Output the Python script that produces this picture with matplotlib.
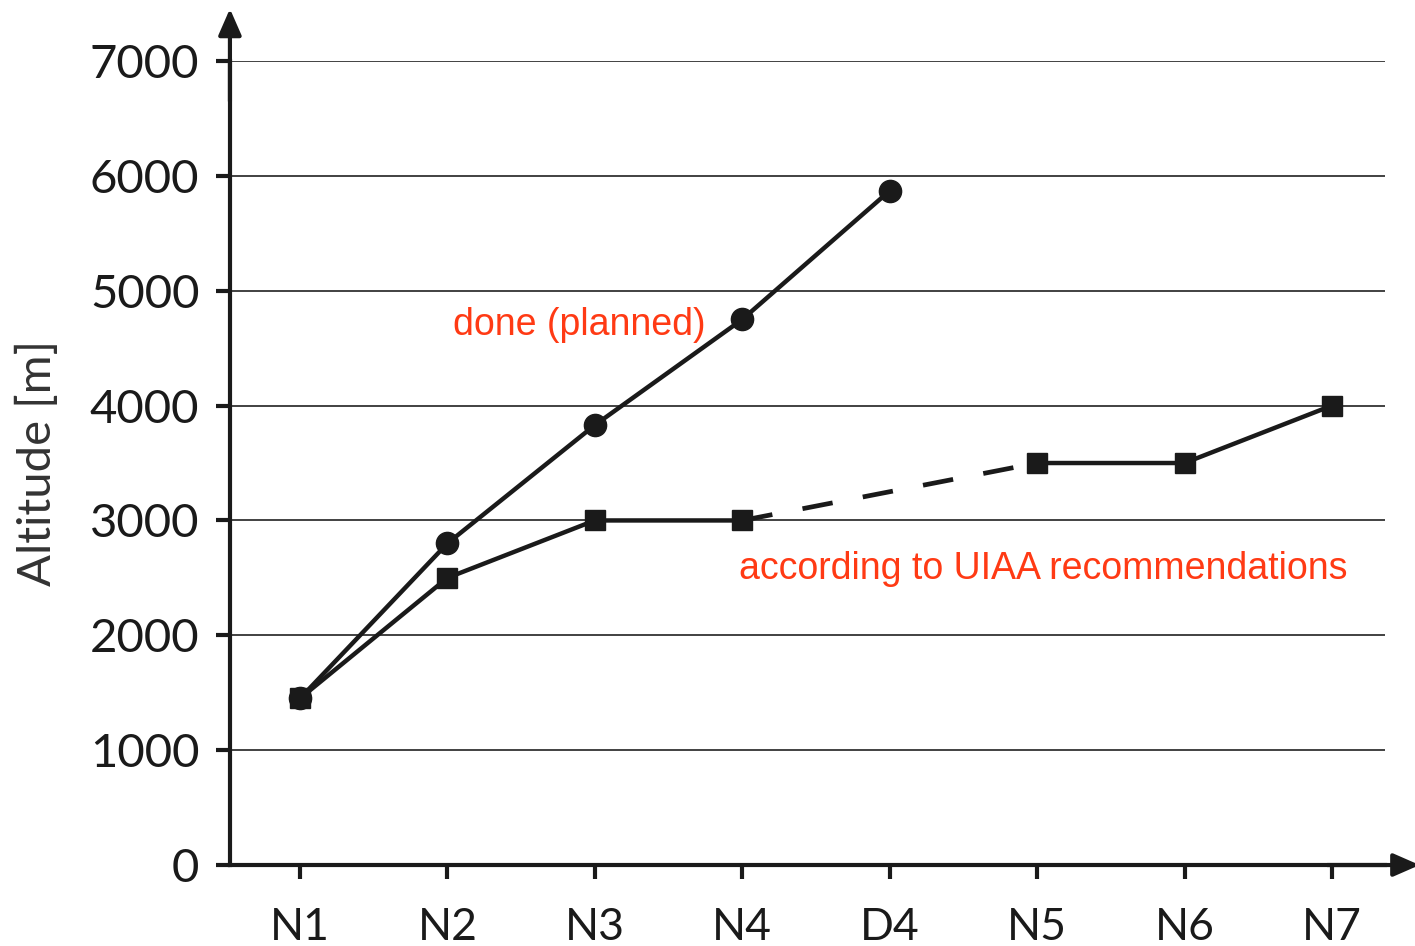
import matplotlib.pyplot as plt
import numpy as np

# categories along the route (D4 sits between N4 and N5)
stops = ['N1', 'N2', 'N3', 'N4', 'D4', 'N5', 'N6', 'N7']
# altitude actually done / planned, N1..D4
done = [1450, 2800, 3830, 4750, 5870]
# UIAA recommendation, no value at D4
uiaa = [1450, 2500, 3000, 3000, np.nan, 3500, 3500, 4000]
yticks = [0, 1000, 2000, 3000, 4000, 5000, 6000, 7000]

tick_font = 'Lato'
red = '#ff3a14'
ink = '#1a1a1a'

fig = plt.figure(figsize=(14.15, 9.46), dpi=100)
ax = fig.add_axes([0.1625, 0.0856, 0.8163, 0.8499])

x = np.arange(len(stops))
uiaa = np.array(uiaa, dtype=float)

# grid
for v in yticks[1:]:
    ax.axhline(v, color='#333333', lw=1.3, zorder=1)

# UIAA series: solid where consecutive, dashed across the D4 gap
ax.plot(x, uiaa, color=ink, lw=3.2, marker='s', ms=15, zorder=3)
ax.plot([x[3], x[5]], [uiaa[3], uiaa[5]], color=ink, lw=3.4,
        linestyle=(0, (6.5, 6.5)), zorder=3)
# done series
ax.plot(x[:len(done)], done, color=ink, lw=3.2, marker='o', ms=16, zorder=4)

ax.set_xlim(-0.475, 7.36)
ax.set_ylim(0, 7000)
ax.set_xticks(x)
ax.set_xticklabels(stops)
ax.set_yticks(yticks)

for s in ['top', 'right']:
    ax.spines[s].set_visible(False)
for s in ['left', 'bottom']:
    ax.spines[s].set_linewidth(3)
    ax.spines[s].set_color(ink)
ax.tick_params(axis='both', length=10, width=3, color=ink,
               labelcolor=ink)
ax.tick_params(axis='y', pad=12, labelsize=34)
ax.tick_params(axis='x', pad=20, labelsize=32)
for lab in ax.get_xticklabels() + ax.get_yticklabels():
    lab.set_family(tick_font)

# arrow heads on the axes
ax.annotate('', xy=(0, 1.065), xytext=(0, 0.95), xycoords='axes fraction',
            arrowprops=dict(arrowstyle='-|>,head_length=1.6,head_width=0.7',
                            color=ink, lw=3, shrinkA=0, shrinkB=0),
            annotation_clip=False)
ax.annotate('', xy=(1.03, 0), xytext=(0.95, 0), xycoords='axes fraction',
            arrowprops=dict(arrowstyle='-|>,head_length=1.6,head_width=0.7',
                            color=ink, lw=3, shrinkA=0, shrinkB=0),
            annotation_clip=False)

ax.set_ylabel('Altitude [m]', fontsize=34, family=tick_font,
              color='#333333', labelpad=22)

ax.text(1.04, 4700, 'done (planned)', color=red, fontsize=27,
        family='Liberation Sans', va='center', ha='left')
ax.text(2.98, 2580, 'according to UIAA recommendations', color=red, fontsize=27,
        family='Liberation Sans', va='center', ha='left')

fig.savefig('out.png', dpi=100)
